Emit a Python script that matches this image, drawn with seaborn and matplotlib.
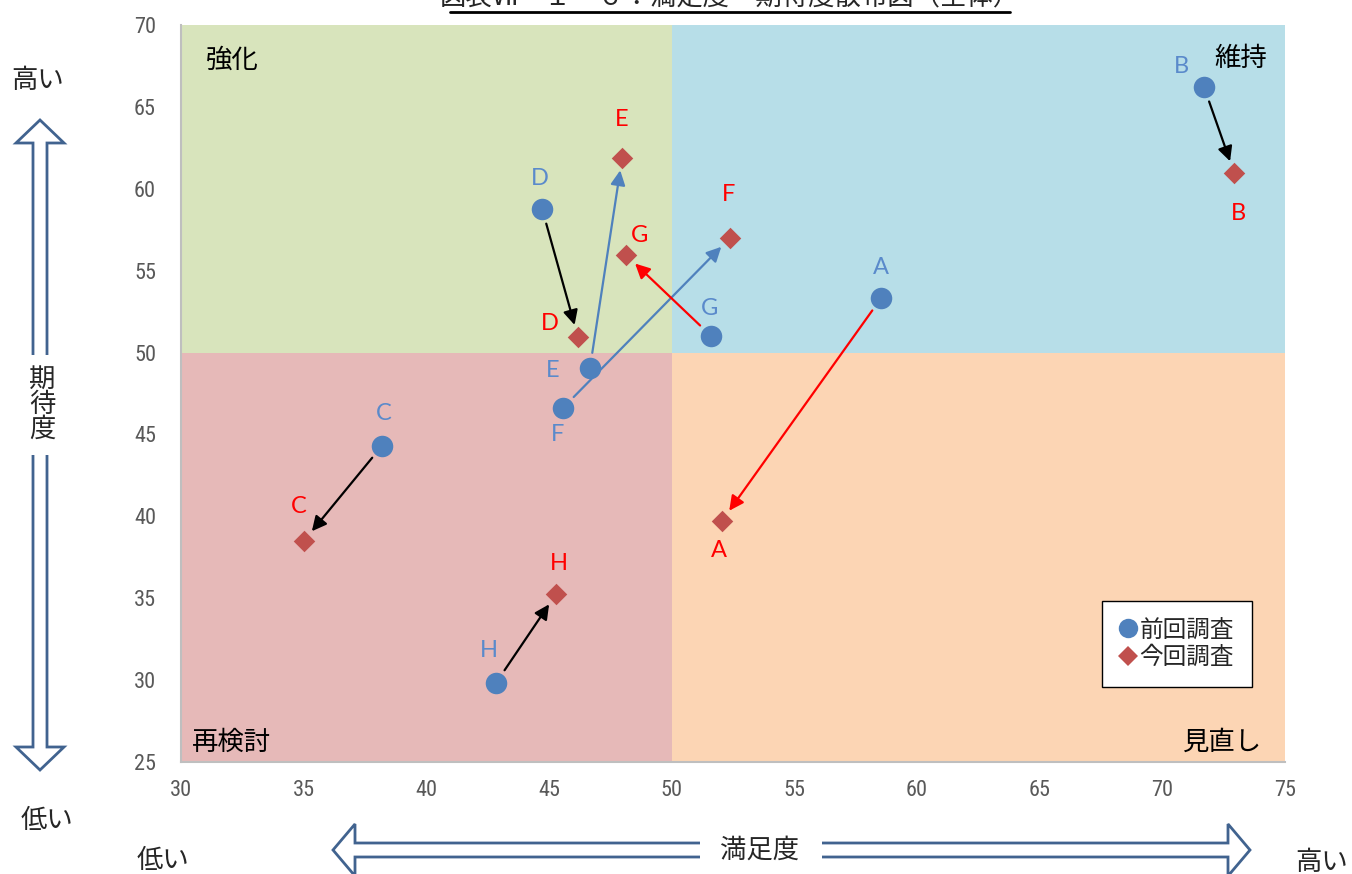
import numpy as np
import pandas as pd
import matplotlib
matplotlib.use("Agg")
import matplotlib.pyplot as plt
from matplotlib.patches import Polygon, Rectangle
from matplotlib.lines import Line2D
import seaborn as sns

sns.set_theme(style="white")
plt.rcParams['font.family'] = ['Noto Sans CJK JP', 'DejaVu Sans']

# ---- data ----
items = ["A", "B", "C", "D", "E", "F", "G", "H"]
prev_sat = [58.54, 71.70, 38.19, 44.72, 46.67, 45.57, 51.61, 42.84]
prev_exp = [53.33, 66.21, 44.30, 58.77, 49.06, 46.62, 51.01, 29.83]
curr_sat = [52.05, 72.93, 35.01, 46.18, 47.98, 52.38, 48.14, 45.29]
curr_exp = [39.72, 60.96, 38.50, 50.95, 61.88, 57.00, 55.96, 35.26]
arrow_colors = ["#FF0000", "black", "black", "black", "#4F81BD", "#4F81BD", "#FF0000", "black"]

survey_names = ["前回調査", "今回調査"]
quadrants = ["強化", "維持", "再検討", "見直し"]
x_ticks = [30, 35, 40, 45, 50, 55, 60, 65, 70, 75]
y_ticks = [25, 30, 35, 40, 45, 50, 55, 60, 65, 70]
title = "図表Ⅶ－１－６：満足度・期待度散布図（全体）"

prev_df = pd.DataFrame({"item": items, "満足度": prev_sat, "期待度": prev_exp})
curr_df = pd.DataFrame({"item": items, "満足度": curr_sat, "期待度": curr_exp})

BLUE = "#4F81BD"
RED = "#C0504D"
BLUE_TXT = "#5A8ACB"
RED_TXT = "#FF0000"
JP = 19

fig = plt.figure(figsize=(13.52, 8.74), dpi=100)
ax = fig.add_axes([181 / 1352, 1 - 762 / 874, 1104 / 1352, 737 / 874])

# quadrant backgrounds
mid_x, mid_y = 50, 50
ax.add_patch(Rectangle((30, mid_y), mid_x - 30, 70 - mid_y, color="#D8E4BC", zorder=0, lw=0))
ax.add_patch(Rectangle((mid_x, mid_y), 75 - mid_x, 70 - mid_y, color="#B7DEE8", zorder=0, lw=0))
ax.add_patch(Rectangle((30, 25), mid_x - 30, mid_y - 25, color="#E6B9B8", zorder=0, lw=0))
ax.add_patch(Rectangle((mid_x, 25), 75 - mid_x, mid_y - 25, color="#FCD5B4", zorder=0, lw=0))

# arrows from previous to current survey
for i in range(len(items)):
    ax.annotate("", xy=(curr_sat[i], curr_exp[i]), xytext=(prev_sat[i], prev_exp[i]),
                arrowprops=dict(arrowstyle="-|>", color=arrow_colors[i], lw=1.6,
                                mutation_scale=22, shrinkA=11, shrinkB=9),
                zorder=2)

sns.scatterplot(data=prev_df, x="満足度", y="期待度", color=BLUE, marker="o",
                s=240, linewidth=0, ax=ax, legend=False, zorder=3)
sns.scatterplot(data=curr_df, x="満足度", y="期待度", color=RED, marker="D",
                s=120, linewidth=0, ax=ax, legend=False, zorder=3)

# point labels (offsets in points)
prev_off = {"A": (0, 22), "B": (-16, 15), "C": (1, 23), "D": (-2, 22), "E": (-27, -2),
            "F": (-4, -19), "G": (-1, 20), "H": (-5, 23)}
curr_off = {"A": (-2, -21), "B": (3, -29), "C": (-4, 25), "D": (-20, 10), "E": (0, 28),
            "F": (-1, 31), "G": (10, 14), "H": (2, 22)}
lab_font = dict(family=["Lato", "DejaVu Sans"], fontweight="normal", fontsize=17)
for i, it in enumerate(items):
    ax.annotate(it, (prev_sat[i], prev_exp[i]), xytext=prev_off[it], textcoords="offset points",
                ha="center", va="center", color=BLUE_TXT, zorder=4, **lab_font)
    ax.annotate(it, (curr_sat[i], curr_exp[i]), xytext=curr_off[it], textcoords="offset points",
                ha="center", va="center", color=RED_TXT, zorder=4, **lab_font)

# quadrant names
ax.text(31.0, 68.7, quadrants[0], fontsize=JP, ha="left", va="top", color="black")
ax.text(74.25, 68.8, quadrants[1], fontsize=JP, ha="right", va="top", color="black")
ax.text(30.45, 25.4, quadrants[2], fontsize=JP, ha="left", va="bottom", color="black")
ax.text(74.05, 25.4, quadrants[3], fontsize=JP, ha="right", va="bottom", color="black")

ax.set_xlim(30, 75)
ax.set_ylim(25, 70)
ax.set_xticks(x_ticks)
ax.set_yticks(y_ticks)
tick_font = ["Roboto Condensed", "Liberation Sans Narrow", "Roboto", "DejaVu Sans"]
ax.set_xticklabels([str(v) for v in x_ticks], family=tick_font, fontsize=16, color="#595959")
ax.set_yticklabels([str(v) for v in y_ticks], family=tick_font, fontsize=16, color="#595959")
ax.tick_params(axis="x", length=0, pad=13)
ax.tick_params(axis="y", length=0, pad=18)
ax.set_xlabel("")
ax.set_ylabel("")
for side in ["top", "right"]:
    ax.spines[side].set_visible(False)
for side in ["left", "bottom"]:
    ax.spines[side].set_color("#BFBFBF")
    ax.spines[side].set_linewidth(1.5)

# legend
handles = [Line2D([], [], marker="o", color="none", markerfacecolor=BLUE, markeredgewidth=0, markersize=14),
           Line2D([], [], marker="D", color="none", markerfacecolor=RED, markeredgewidth=0, markersize=10)]
leg = ax.legend(handles, survey_names, loc="lower right", bbox_to_anchor=(0.970, 0.102),
                frameon=True, fancybox=False, edgecolor="black", framealpha=1, fontsize=17,
                handlelength=0.7, handletextpad=0.15, borderpad=0.75, labelspacing=0.2,
                borderaxespad=0)
leg.get_frame().set_linewidth(1.0)
leg.get_frame().set_facecolor("white")

# overlay in figure pixel space for direction arrows and outer labels
ov = fig.add_axes([0, 0, 1, 1], zorder=5)
ov.set_xlim(0, 1352)
ov.set_ylim(874, 0)
ov.axis("off")
ov.patch.set_alpha(0)

ARW = "#41638F"

def v_arrow(x, y_tail, y_tip, up=True):
    sw, hw, hl = 7, 24, 23
    d = -1 if up else 1
    y_base = y_tip - d * hl
    pts = [(x - sw, y_tail), (x - sw, y_base), (x - hw, y_base), (x, y_tip),
           (x + hw, y_base), (x + sw, y_base), (x + sw, y_tail)]
    ov.add_patch(Polygon(pts, closed=False, fill=False, edgecolor=ARW, lw=2))

def h_arrow(y, x_tail, x_tip, right=True):
    sw, hw, hl = 7, 26, 22
    d = 1 if right else -1
    x_base = x_tip - d * hl
    pts = [(x_tail, y - sw), (x_base, y - sw), (x_base, y - hw), (x_tip, y),
           (x_base, y + hw), (x_base, y + sw), (x_tail, y + sw)]
    ov.add_patch(Polygon(pts, closed=False, fill=False, edgecolor=ARW, lw=2))

v_arrow(40, 355, 120, up=True)
v_arrow(40, 455, 770, up=False)
h_arrow(850, 700, 333, right=False)
h_arrow(850, 822, 1250, right=True)

ov.text(38, 80, "高い", fontsize=JP, ha="center", va="center")
ov.text(47, 820, "低い", fontsize=JP, ha="center", va="center")
ov.text(42, 404, "期\n待\n度", fontsize=JP, ha="center", va="center", linespacing=0.9)
ov.text(163, 860, "低い", fontsize=JP, ha="center", va="center")
ov.text(1322, 862, "高い", fontsize=JP, ha="center", va="center")
ov.text(760, 850, "満足度", fontsize=JP, ha="center", va="center")

# title along the top edge of the page
ov.text(730, -2, title, fontsize=JP, ha="center", va="center")
ov.plot([450, 1010], [12, 12], color="black", lw=2)

fig.savefig("out.png", dpi=100)
